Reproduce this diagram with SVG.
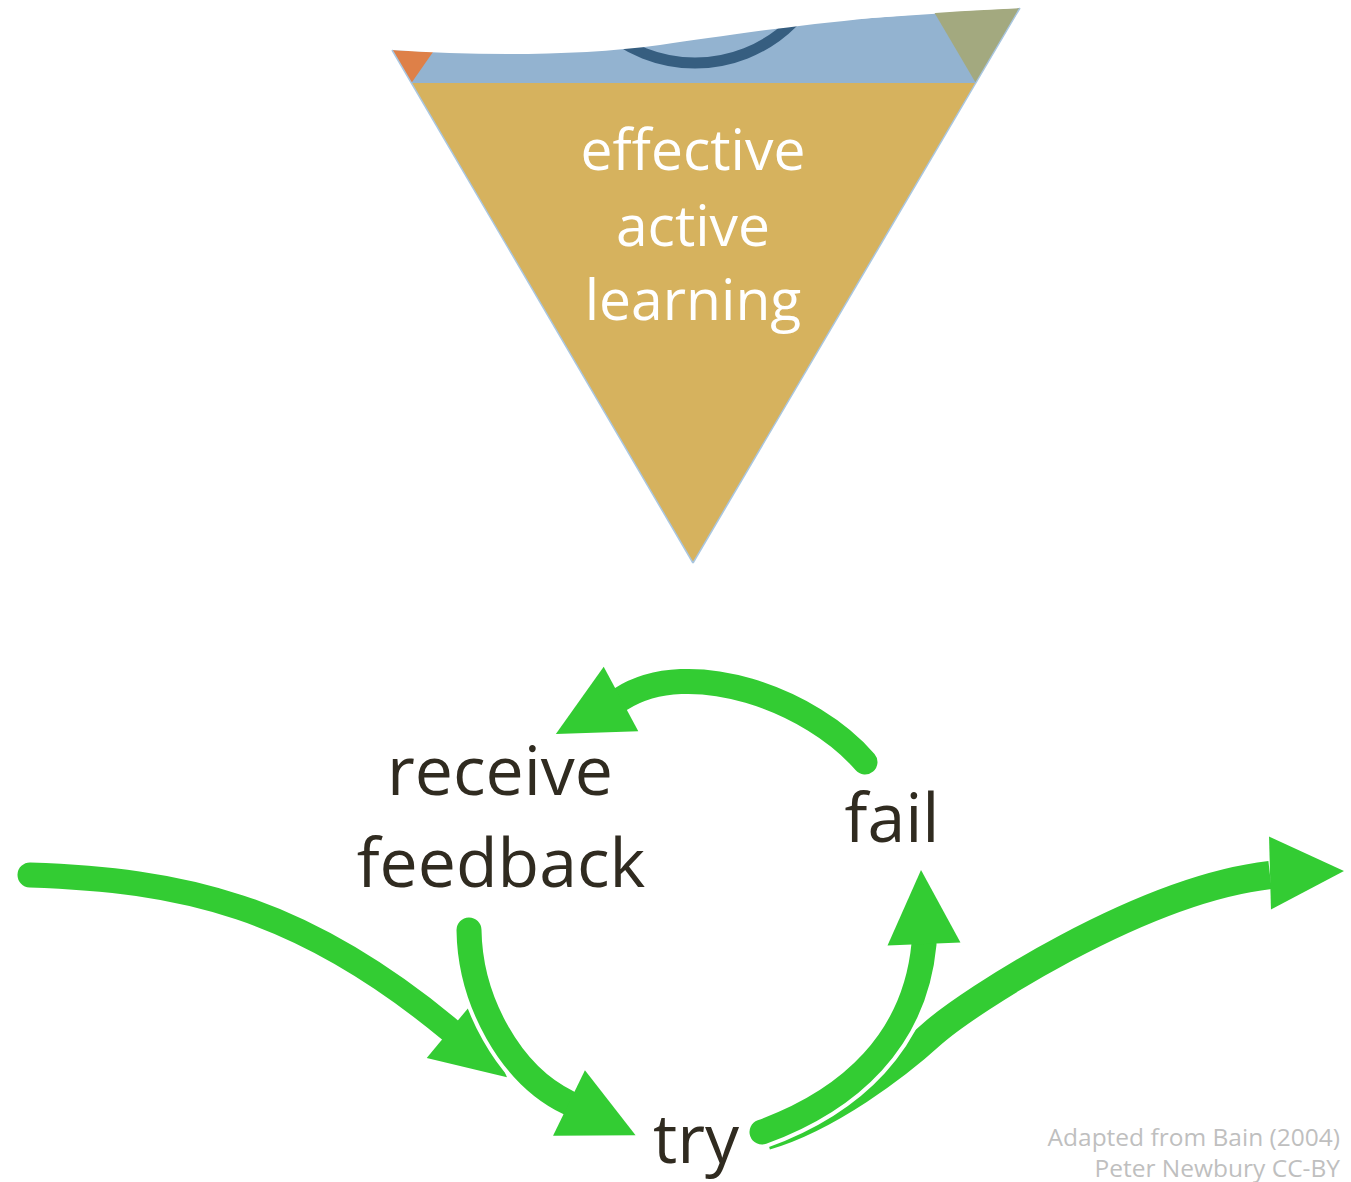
<svg xmlns="http://www.w3.org/2000/svg" xmlns:xlink="http://www.w3.org/1999/xlink" width="1351" height="1182" viewBox="0 0 1351 1182">
<style>
.tri-text{font-family:"Open Sans","Liberation Sans",sans-serif;font-size:57px;fill:#ffffff;text-anchor:middle}
.label{font-family:"Open Sans","Liberation Sans",sans-serif;font-size:68px;fill:#302b20;text-anchor:middle}
.credit{font-family:"Open Sans","Liberation Sans",sans-serif;font-size:24.5px;fill:#bfbfbf;text-anchor:end}
.shaft{fill:none;stroke:#33cc33;stroke-width:25;stroke-linecap:round}
.halo{fill:none;stroke:#ffffff;stroke-width:33;stroke-linecap:round}
.head{fill:#33cc33}
.head-halo{fill:#ffffff;stroke:#ffffff;stroke-width:8;stroke-linejoin:miter}
</style>
<defs>
<path id="ah" d="M0,-36.5 L74,0 L0,36.5 Z"/>
</defs>
<rect width="1351" height="1182" fill="#ffffff"/>

<g id="triangle">
<polygon points="411.4,83 975.8,83 693,563" fill="#d6b25e"/>
<polygon points="392,50 1020,8 975.8,83 411.4,83" fill="#93b3d0"/>
<polygon points="392,50 433,52 411.4,83" fill="#de8048"/>
<polygon points="934,12 1020,8 975.8,83" fill="#a3a97f"/>
<circle cx="695" cy="-75" r="138" fill="none" stroke="#365e80" stroke-width="11"/>
<path d="M380,-2 L380,50 L392,50 C480,56 580,56 660,45 S850,15 1022,8 L1040,-2 Z" fill="#ffffff"/>
<line x1="392" y1="50" x2="693" y2="563" stroke="#a9c6e0" stroke-width="1.5"/>
<line x1="1020" y1="8" x2="693" y2="563" stroke="#a9c6e0" stroke-width="1.5"/>
<text class="tri-text" x="693" y="170">effective</text>
<text class="tri-text" x="693" y="246">active</text>
<text class="tri-text" x="693" y="320">learning</text>
</g>

<g id="connectors">
<g id="arrow-fail-receive">
<path class="shaft" d="M865,762 C812,700 690,655 621,699"/>
<use xlink:href="#ah" class="head" transform="translate(621,699) rotate(151.7)"/>
</g>
<g id="arrow-entry-try">
<path class="shaft" d="M30,875 C180,880 300,905 450,1030"/>
<use xlink:href="#ah" class="head" transform="translate(450,1030) rotate(39.6)"/>
</g>
<g id="arrow-feedback-try">
<path class="halo" d="M469,930 C470,1000 510,1075 569,1103"/>
<use xlink:href="#ah" class="head-halo" transform="translate(569,1103) rotate(25.9)"/>
<path class="shaft" d="M469,930 C470,1000 510,1075 569,1103"/>
<use xlink:href="#ah" class="head" transform="translate(569,1103) rotate(25.9)"/>
</g>
<g id="arrow-try-exit">
<path class="shaft" style="stroke-linecap:butt;stroke-width:28" d="M766,1136 C828,1118 897,1066 932,1034 C968,1002 1140,890 1270,875"/>
<use xlink:href="#ah" class="head" transform="translate(1270,873) rotate(-1.5)"/>
</g>
<g id="arrow-try-fail">
<path class="halo" d="M762,1132 C850,1100 915,1040 924,944"/>
<use xlink:href="#ah" class="head-halo" transform="translate(924,946) rotate(-92.3)"/>
<path class="shaft" d="M762,1132 C850,1100 915,1040 924,944"/>
<use xlink:href="#ah" class="head" transform="translate(924,944) rotate(-92.3)"/>
</g>
</g>

<g id="node-receive-feedback">
<text class="label" x="500" y="795">receive</text>
<text class="label" x="501" y="887">feedback</text>
</g>
<g id="node-fail">
<text class="label" x="892" y="842">fail</text>
</g>
<g id="node-try">
<text class="label" x="696" y="1163">try</text>
</g>
<g id="credit">
<text class="credit" x="1340" y="1146">Adapted from Bain (2004)</text>
<text class="credit" x="1340" y="1177">Peter Newbury CC-BY</text>
</g>
</svg>
